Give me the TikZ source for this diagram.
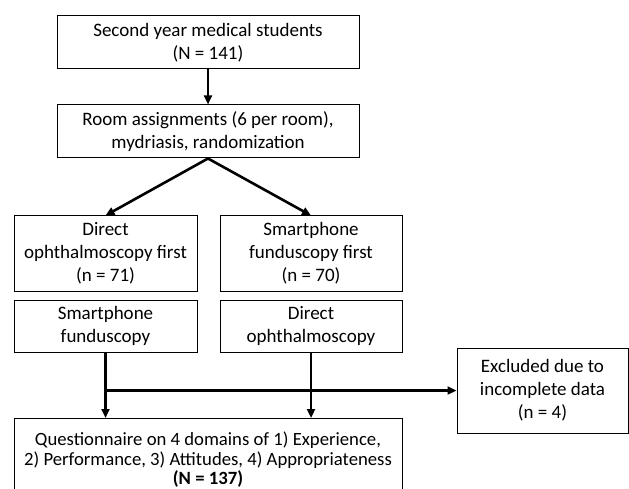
\documentclass[tikz,border=0pt]{standalone}
\usepackage{fontspec}
\setmainfont{Carlito}
\usetikzlibrary{arrows.meta}

\tikzset{
	flowbox/.style={draw,line width=1pt,align=center,inner sep=0pt,
		font={\fontsize{19}{23}\selectfont}},
	flowarrow/.style={line width=2.6pt,-{Triangle[length=9pt,width=8pt]}}
}

\begin{document}
\begin{tikzpicture}[x=1pt,y=1pt]
\useasboundingbox (0,0) rectangle (629,-489);
		\node[flowbox,minimum width=302,minimum height=53] (students) at (208,-42.5)
				{Second year medical students\\(N = 141)};
		\node[flowbox,minimum width=302,minimum height=53] (rooms) at (208,-131.5)
				{Room assignments (6 per room),\\mydriasis, randomization};
		\node[flowbox,minimum width=183,minimum height=75] (directfirst) at (105.5,-253.5)
				{Direct\\ophthalmoscopy first\\(n = 71)};
		\node[flowbox,minimum width=182,minimum height=75] (smartfirst) at (311,-253.5)
				{Smartphone\\funduscopy first\\(n = 70)};
		\node[flowbox,minimum width=183,minimum height=52] (smartsecond) at (105.5,-326)
				{Smartphone\\funduscopy};
		\node[flowbox,minimum width=182,minimum height=52] (directsecond) at (311,-326)
				{Direct\\ophthalmoscopy};
		\node[flowbox,minimum width=171,minimum height=85] (excluded) at (542.5,-390.5)
				{Excluded due to\\incomplete data\\(n = 4)};
		\node[flowbox,anchor=north,minimum width=388,minimum height=83,
				font={\fontsize{18.7}{19.5}\selectfont}] (questionnaire) at (208,-418)
				{Questionnaire on 4 domains of 1) Experience,\\2) Performance, 3) Attitudes, 4) Appropriateness\\\textbf{(N = 137)}};

		\draw[flowarrow] (students) -- (rooms);
		\draw[flowarrow] (rooms.south) -- (directfirst.north);
		\draw[flowarrow] (rooms.south) -- (smartfirst.north);
		\draw[flowarrow] (smartsecond) -- (smartsecond |- questionnaire.north);
		\draw[flowarrow] (directsecond) -- (directsecond |- questionnaire.north);
		\draw[flowarrow] (smartsecond |- excluded.west) -- (excluded.west);
\end{tikzpicture}
\end{document}
